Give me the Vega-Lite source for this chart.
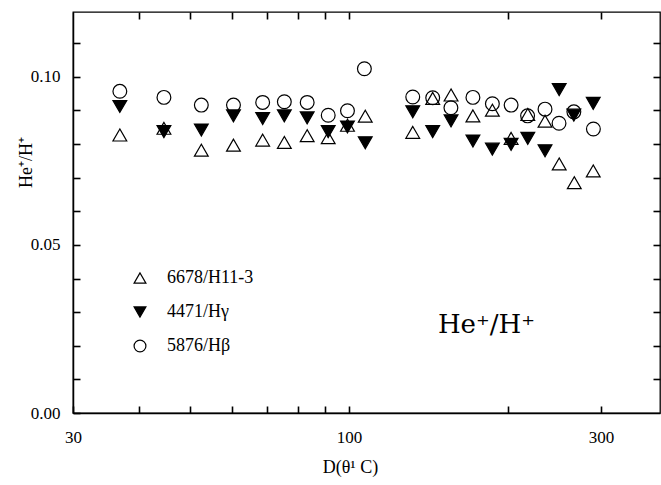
{
  "$schema": "https://vega.github.io/schema/vega-lite/v6.json",
  "width": 587,
  "height": 401,
  "autosize": {"type": "none"},
  "padding": {"left": 73, "top": 12, "right": 1, "bottom": 72},
  "background": "white",
  "config": {
    "view": {"stroke": "black", "strokeWidth": 1.3},
    "axis": {
      "domainColor": "black", "domainWidth": 1.5, "labelColor": "black", "titleColor": "black",
      "labelFont": "Liberation Serif", "titleFont": "Liberation Serif", "labelFontSize": 17, "titleFontSize": 18,
      "titleFontWeight": "normal", "grid": false
    },
    "legend": {"padding": 0}
  },
  "data": {
    "values": [
      {"series": "5876/Hβ", "d": 36.8, "v": 0.0957},
      {"series": "5876/Hβ", "d": 44.6, "v": 0.0939},
      {"series": "5876/Hβ", "d": 52.5, "v": 0.0916},
      {"series": "5876/Hβ", "d": 60.4, "v": 0.0916},
      {"series": "5876/Hβ", "d": 68.6, "v": 0.0924},
      {"series": "5876/Hβ", "d": 75.4, "v": 0.0926},
      {"series": "5876/Hβ", "d": 83.3, "v": 0.0924},
      {"series": "5876/Hβ", "d": 91.3, "v": 0.0886},
      {"series": "5876/Hβ", "d": 99.3, "v": 0.0899},
      {"series": "5876/Hβ", "d": 106.9, "v": 0.1024},
      {"series": "5876/Hβ", "d": 132, "v": 0.094},
      {"series": "5876/Hβ", "d": 144, "v": 0.0938},
      {"series": "5876/Hβ", "d": 155.9, "v": 0.0908},
      {"series": "5876/Hβ", "d": 171.6, "v": 0.0939},
      {"series": "5876/Hβ", "d": 186.8, "v": 0.092},
      {"series": "5876/Hβ", "d": 202.7, "v": 0.0916},
      {"series": "5876/Hβ", "d": 217.8, "v": 0.0884},
      {"series": "5876/Hβ", "d": 235, "v": 0.0904},
      {"series": "5876/Hβ", "d": 249.8, "v": 0.0862},
      {"series": "5876/Hβ", "d": 266.5, "v": 0.0896},
      {"series": "5876/Hβ", "d": 290.2, "v": 0.0845},
      {"series": "4471/Hγ", "d": 36.8, "v": 0.0912},
      {"series": "4471/Hγ", "d": 44.6, "v": 0.0837},
      {"series": "4471/Hγ", "d": 52.5, "v": 0.0842},
      {"series": "4471/Hγ", "d": 60.4, "v": 0.0884},
      {"series": "4471/Hγ", "d": 68.6, "v": 0.0876},
      {"series": "4471/Hγ", "d": 75.4, "v": 0.0884},
      {"series": "4471/Hγ", "d": 83.3, "v": 0.0878},
      {"series": "4471/Hγ", "d": 91.3, "v": 0.0837},
      {"series": "4471/Hγ", "d": 99.3, "v": 0.0851},
      {"series": "4471/Hγ", "d": 107.3, "v": 0.0804},
      {"series": "4471/Hγ", "d": 132, "v": 0.0896},
      {"series": "4471/Hγ", "d": 144, "v": 0.0837},
      {"series": "4471/Hγ", "d": 156, "v": 0.0869},
      {"series": "4471/Hγ", "d": 171.6, "v": 0.0809},
      {"series": "4471/Hγ", "d": 186.8, "v": 0.0785},
      {"series": "4471/Hγ", "d": 202.7, "v": 0.0799},
      {"series": "4471/Hγ", "d": 218, "v": 0.0817},
      {"series": "4471/Hγ", "d": 235, "v": 0.078},
      {"series": "4471/Hγ", "d": 250, "v": 0.0962},
      {"series": "4471/Hγ", "d": 266.5, "v": 0.0886},
      {"series": "4471/Hγ", "d": 290, "v": 0.0921},
      {"series": "6678/H11-3", "d": 36.8, "v": 0.0827},
      {"series": "6678/H11-3", "d": 44.6, "v": 0.0847},
      {"series": "6678/H11-3", "d": 52.5, "v": 0.0782},
      {"series": "6678/H11-3", "d": 60.4, "v": 0.0797},
      {"series": "6678/H11-3", "d": 68.6, "v": 0.0812},
      {"series": "6678/H11-3", "d": 75.4, "v": 0.0805},
      {"series": "6678/H11-3", "d": 83.3, "v": 0.0825},
      {"series": "6678/H11-3", "d": 91.3, "v": 0.0819},
      {"series": "6678/H11-3", "d": 99.3, "v": 0.0856},
      {"series": "6678/H11-3", "d": 107.3, "v": 0.0883},
      {"series": "6678/H11-3", "d": 132, "v": 0.0835},
      {"series": "6678/H11-3", "d": 144, "v": 0.0936},
      {"series": "6678/H11-3", "d": 156, "v": 0.0946},
      {"series": "6678/H11-3", "d": 171.6, "v": 0.0884},
      {"series": "6678/H11-3", "d": 186.8, "v": 0.0901},
      {"series": "6678/H11-3", "d": 202.7, "v": 0.0817},
      {"series": "6678/H11-3", "d": 218, "v": 0.0888},
      {"series": "6678/H11-3", "d": 235, "v": 0.0868},
      {"series": "6678/H11-3", "d": 250, "v": 0.0741},
      {"series": "6678/H11-3", "d": 267, "v": 0.0685},
      {"series": "6678/H11-3", "d": 290, "v": 0.072}
    ]
  },
  "layer": [
    {
      "mark": {"type": "point", "filled": true, "stroke": "black", "strokeWidth": 1.2, "size": 190, "opacity": 1},
      "encoding": {
        "x": {
          "field": "d", "type": "quantitative",
          "scale": {"type": "log", "domain": [30, 388], "nice": false},
          "axis": {
            "values": [30, 40, 50, 60, 70, 80, 90, 100, 200, 300],
            "ticks": true, "tickSize": -7, "tickWidth": 1.6, "tickColor": "#000000", "tickOpacity": 1,
            "labelExpr": "(datum.value == 30 || datum.value == 100 || datum.value == 300) ? format(datum.value, 'd') : ''",
            "labelOverlap": false, "labelFlush": false, "labelPadding": 23,
            "title": "D(θ¹ C)", "titleX": 277, "titleY": 54, "titleBaseline": "middle"
          }
        },
        "y": {
          "field": "v", "type": "quantitative",
          "scale": {"domain": [0, 0.1193], "nice": false},
          "axis": {
            "values": [0, 0.01, 0.02, 0.03, 0.04, 0.05, 0.06, 0.07, 0.08, 0.09, 0.1, 0.11],
            "ticks": true, "tickSize": -7, "tickWidth": 1.6, "tickColor": "#000000", "tickOpacity": 1,
            "labelExpr": "(abs(datum.value) < 1e-9 || abs(datum.value - 0.05) < 1e-9 || abs(datum.value - 0.1) < 1e-9) ? format(datum.value, '.2f') : ''",
            "labelOverlap": false, "labelFlush": false, "labelPadding": 20,
            "title": "He⁺/H⁺", "titleX": -47, "titleY": 150, "titleBaseline": "middle", "titleAlign": "center"
          }
        },
        "shape": {
          "field": "series", "type": "nominal",
          "scale": {"domain": ["6678/H11-3", "4471/Hγ", "5876/Hβ"], "range": ["triangle-up", "triangle-down", "circle"]},
          "legend": {
            "orient": "none", "legendX": 58, "legendY": 257, "title": null,
            "symbolSize": 140, "symbolStrokeWidth": 1.2, "symbolStrokeColor": "black", "symbolOpacity": 1,
            "labelFont": "Liberation Serif", "labelFontSize": 18, "labelColor": "black",
            "labelOffset": 18, "rowPadding": 16,
            "encode": {"symbols": {"update": {"stroke": {"value": "black"}, "strokeWidth": {"value": 1.2}, "opacity": {"value": 1}}}}
          }
        },
        "fill": {
          "field": "series", "type": "nominal",
          "scale": {"domain": ["6678/H11-3", "4471/Hγ", "5876/Hβ"], "range": ["transparent", "black", "transparent"]},
          "legend": {
            "orient": "none", "legendX": 58, "legendY": 257, "title": null,
            "symbolSize": 140, "symbolStrokeWidth": 1.2, "symbolStrokeColor": "black", "symbolOpacity": 1,
            "labelFont": "Liberation Serif", "labelFontSize": 18, "labelColor": "black",
            "labelOffset": 18, "rowPadding": 16,
            "encode": {"symbols": {"update": {"stroke": {"value": "black"}, "strokeWidth": {"value": 1.2}, "opacity": {"value": 1}}}}
          }
        }
      }
    },
    {
      "mark": {"type": "point", "opacity": 0},
      "encoding": {
        "x": {
          "field": "d", "type": "quantitative",
          "axis": {"orient": "top", "values": [40, 50, 60, 70, 80, 90, 100, 200, 300], "ticks": true, "tickSize": -7, "tickWidth": 1.6, "tickColor": "#000000", "tickOpacity": 1, "labels": false, "title": null, "domain": false}
        },
        "y": {
          "field": "v", "type": "quantitative",
          "axis": {"orient": "right", "values": [0.01, 0.02, 0.03, 0.04, 0.05, 0.06, 0.07, 0.08, 0.09, 0.1, 0.11], "ticks": true, "tickSize": -7, "tickWidth": 1.6, "tickColor": "#000000", "tickOpacity": 1, "labels": false, "title": null, "domain": false}
        }
      }
    },
    {
      "data": {"values": [{"d": 182, "v": 0.0237, "t": "He⁺/H⁺"}]},
      "mark": {"type": "text", "font": "DejaVu Serif", "fontSize": 26, "baseline": "alphabetic", "align": "center", "color": "black"},
      "encoding": {
        "x": {"field": "d", "type": "quantitative", "axis": null},
        "y": {"field": "v", "type": "quantitative", "axis": null},
        "text": {"field": "t"}
      }
    }
  ],
  "resolve": {"axis": {"x": "independent", "y": "independent"}}
}
